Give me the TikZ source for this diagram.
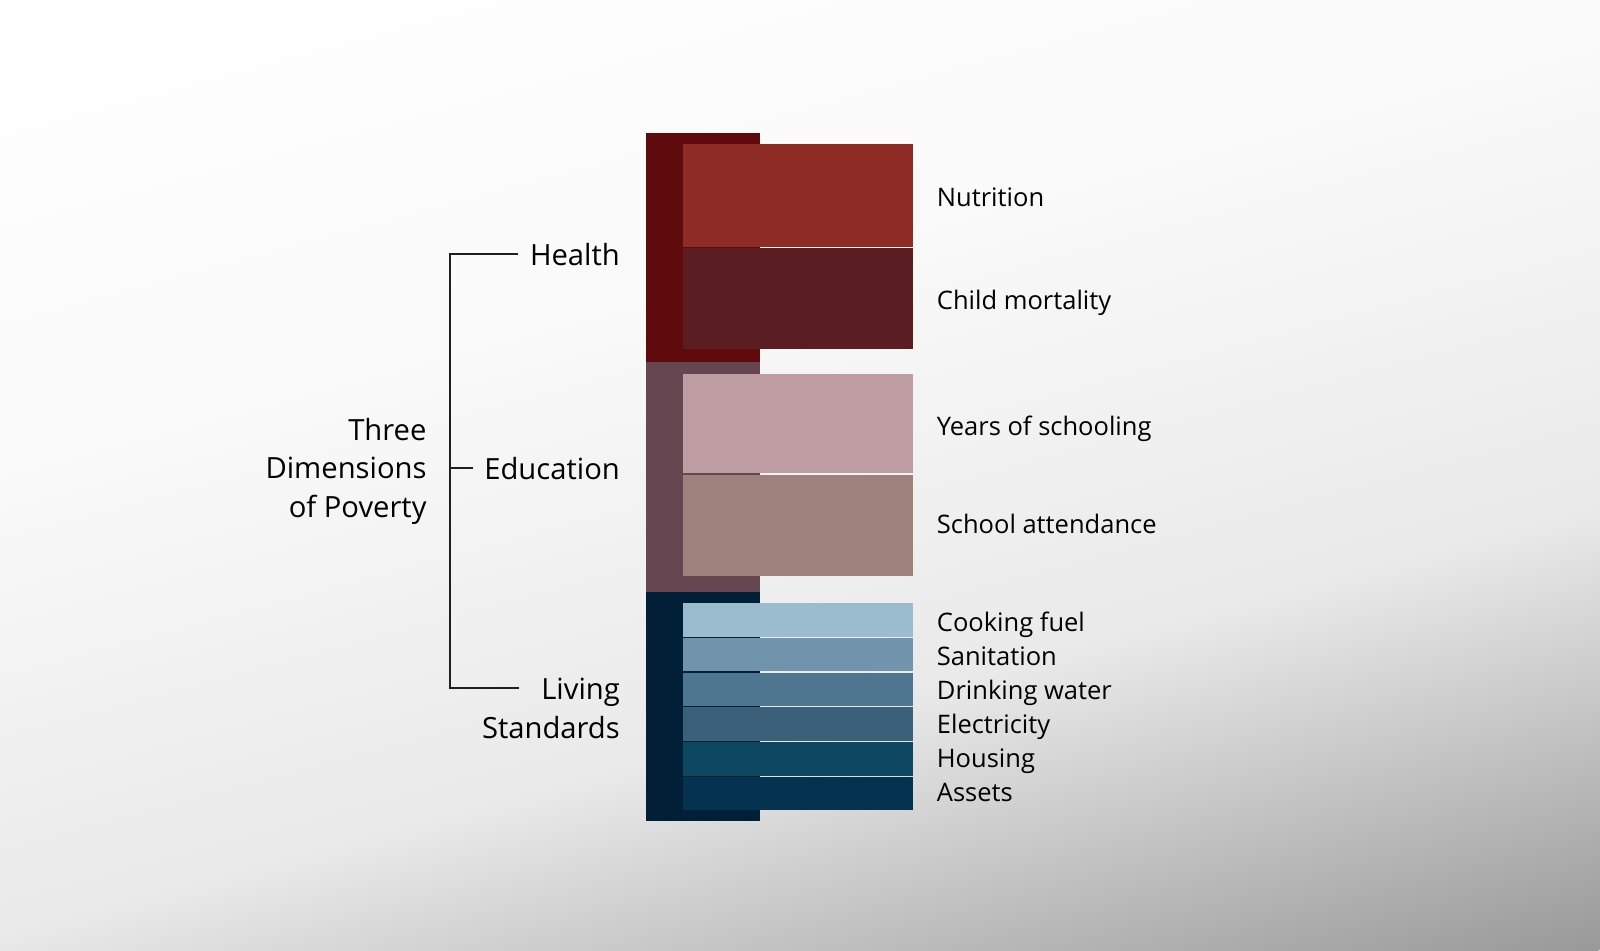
\documentclass[tikz,border=0pt]{standalone}
\usepackage{fontspec}
\setmainfont{Open Sans}

\definecolor{hdark}{HTML}{5F0B0E}
\definecolor{nutri}{HTML}{8F2B25}
\definecolor{childm}{HTML}{5A1D21}
\definecolor{edark}{HTML}{664751}
\definecolor{years}{HTML}{BE9EA2}
\definecolor{attend}{HTML}{9E807C}
\definecolor{ldark}{HTML}{011F37}
\definecolor{cook}{HTML}{9BBBCF}
\definecolor{sani}{HTML}{6F94AB}
\definecolor{drink}{HTML}{4F7691}
\definecolor{elec}{HTML}{3A607A}
\definecolor{housing}{HTML}{0D4761}
\definecolor{assets}{HTML}{043351}
\definecolor{bgl}{gray}{0.98}
\definecolor{bgm}{gray}{0.915}
\definecolor{bgd}{gray}{0.60}

\pgfdeclareverticalshading{bgfade}{100bp}{color(0bp)=(bgd); color(25bp)=(bgd); color(41bp)=(bgm); color(58bp)=(bgl); color(75bp)=(white); color(100bp)=(white)}

\tikzset{
  dim/.style={font=\fontsize{29.2}{38.5}\selectfont, inner sep=0pt, align=right, anchor=base east},
  item/.style={font=\fontsize{25.5}{30}\selectfont, inner sep=0pt, anchor=base west},
  bracket/.style={line width=2.2pt, black!88},
}

\begin{document}
\begin{tikzpicture}[x=1pt, y=-1pt]
  \useasboundingbox (0,0) rectangle (1600,950);
  % background
  \begin{scope}
    \clip (0,0) rectangle (1600,950);
    \begin{scope}[transform canvas={rotate around={15:(800,475)}}]
      \shade[shading=bgfade] (-300,-191) rectangle (1900,1141);
    \end{scope}
  \end{scope}

  % dimension columns
  \fill[hdark] (645.7,132.7) rectangle (760,361.7);
  \fill[edark] (645.7,361.7) rectangle (760,592.3);
  \fill[ldark] (645.7,592.3) rectangle (760,820.7);

  % indicator bars
  \fill[nutri] (683.3,144) rectangle (912.5,246.7);
  \fill[childm] (683.3,248.3) rectangle (912.5,349.3);
  \fill[years] (683.3,374.3) rectangle (912.5,473.3);
  \fill[attend] (683.3,474.7) rectangle (912.5,576);

  \node[item] (nutrition) at (936.7,206) {Nutrition};
  \node[item] (childmort) at (936.7,309.3) {Child mortality};
  \node[item] (schooling) at (936.7,435) {Years of schooling};
  \node[item] (attendance) at (936.7,533.3) {School attendance};

  \foreach \txt/\col [count=\i from 0] in {Cooking fuel/cook, Sanitation/sani, Drinking water/drink, Electricity/elec, Housing/housing, Assets/assets}{
    \fill[\col] (683.3,603.3+34.73*\i) rectangle (912.5,603.3+34.73*\i+33.4);
    \node[item] (ls\i) at (936.7,631.7+34*\i) {\txt};
  }

  % dimensions (base = last line)
  \node[dim] (health) at (620,265) {Health};
  \node[dim] (educ) at (620,479.3) {Education};
  \node[dim] (living) at (620,738) {Living\\Standards};
  \node[dim] (three) at (426.7,517) {Three\\Dimensions\\of Poverty};

  \coordinate (spinebot) at (450,688.3);
  \coordinate (livend) at (519,688.3);
  \draw[bracket] ([xshift=-12]health.west) -| (spinebot) -- (livend);
  \draw[bracket] (spinebot |- educ.west) -- ([xshift=-11]educ.west);
\end{tikzpicture}
\end{document}
